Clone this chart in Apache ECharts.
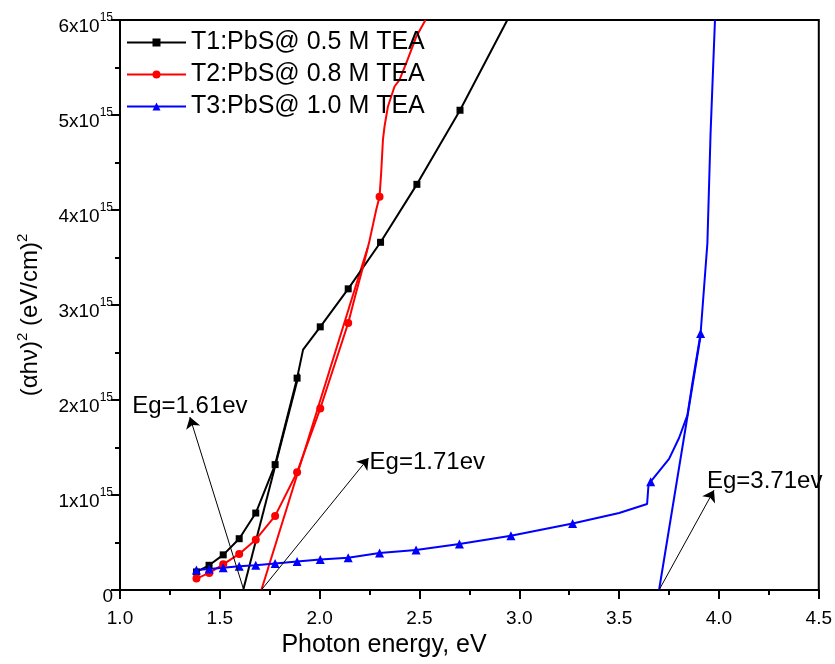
<!DOCTYPE html>
<html>
<head>
<meta charset="utf-8">
<script src="https://cdn.jsdelivr.net/npm/echarts@6/dist/echarts.min.js"></script>
<style>html,body{margin:0;padding:0;background:#fff}#c{width:835px;height:664px}</style>
</head>
<body>
<div id="c"></div>
<script>
// y values in units of 1e15 (eV/cm)^2
const seriesNames = ['T1:PbS@ 0.5 M TEA', 'T2:PbS@ 0.8 M TEA', 'T3:PbS@ 1.0 M TEA'];
const t1x = [1.383,1.446,1.517,1.597,1.68,1.777,1.887,1.917,2.003,2.143,2.305,2.487,2.703,2.94];
const t1y = [0.19,0.26,0.37,0.54,0.81,1.32,2.23,2.53,2.77,3.17,3.66,4.27,5.05,6.0];
const t1Marked = [0,1,2,3,4,5,6,8,9,10,11,12];
const t2x = [1.383,1.447,1.517,1.597,1.68,1.777,1.887,2.003,2.143,2.175,2.217,2.25,2.283,2.30,2.308,2.317,2.325,2.342,2.375,2.40,2.44,2.483,2.53];
const t2y = [0.12,0.18,0.27,0.38,0.53,0.78,1.24,1.91,2.81,3.07,3.40,3.68,4.00,4.14,4.39,4.74,4.88,5.09,5.30,5.37,5.58,5.82,6.0];
const t2Marked = [0,1,2,3,4,5,6,7,8,13];
const t3x = [1.383,1.447,1.517,1.597,1.68,1.777,1.887,2.003,2.143,2.30,2.483,2.70,2.958,3.267,3.5,3.64,3.647,3.658,3.75,3.80,3.842,3.867,3.908,3.942,3.958,3.98];
const t3y = [0.21,0.22,0.235,0.25,0.26,0.28,0.30,0.32,0.34,0.39,0.42,0.484,0.57,0.70,0.81,0.905,1.105,1.14,1.38,1.60,1.84,2.18,2.70,3.65,4.81,6.0];
const t3Marked = [0,1,2,3,4,5,6,7,8,9,10,11,12,13,17,22];
// tangent (extrapolation) lines
const tan1 = [[1.617,0],[1.897,2.28]];
const tan2 = [[1.708,0],[2.24,3.6]];
const tan3 = [[3.70,0],[3.91,2.7]];
// annotations: arrows and labels
const arrowStart = [[1.617,0.02],[1.708,0.0],[3.70,0.0]];
const arrowEnd = [[1.35,1.82],[2.245,1.39],[3.975,1.05]];
const annotText = ['Eg=1.61ev','Eg=1.71ev','Eg=3.71ev'];
const annotPos = [[1.35,1.93],[2.25,1.34],[3.94,1.14]];
const annotAlign = ['center','left','left'];
const xTicks = {min:1.0, max:4.5, step:0.5};
const yTicks = {min:0, max:6, step:1};

const colors = ['#000000','#ff0000','#0000ff'];
const symbols = ['rect','circle','triangle'];
const symSizes = [7,8,9];
function build(xs, ys, marked, sym){
  return xs.map((x,i)=>({value:[x,ys[i]], symbol: marked.indexOf(i)>=0 ? sym : 'none'}));
}
const FONT = 'Liberation Sans, Arial, sans-serif';
const chart = echarts.init(document.getElementById('c'), null, {renderer:'canvas'});
const dataSets = [[t1x,t1y,t1Marked],[t2x,t2y,t2Marked],[t3x,t3y,t3Marked]];
const series = dataSets.map((d,k)=>({
  name: seriesNames[k], type:'line', data: build(d[0],d[1],d[2],symbols[k]),
  symbol: symbols[k], symbolSize: symSizes[k], showAllSymbol:true,
  lineStyle:{color:colors[k], width:2}, itemStyle:{color:colors[k]},
  z: 3, silent:true
}));
[tan1,tan2,tan3].forEach((t,k)=>series.push({
  name:'tan'+k, type:'line', data:t, showSymbol:false, symbol:'none',
  lineStyle:{color:colors[k], width:2}, z:2, silent:true
}));
series.push({
  name:'arrows', type:'line', data:[], silent:true,
  markLine:{
    silent:true, symbol:['none','arrow'], symbolSize:11,
    label:{show:false}, lineStyle:{color:'#000', width:1, type:'solid'},
    itemStyle:{color:'#000'},
    emphasis:{disabled:true},
    data: arrowStart.map((s,i)=>[{coord:s},{coord:arrowEnd[i]}])
  }
});
const option = {
  animation:false,
  textStyle:{fontFamily:FONT, color:'#000'},
  grid:{left:120, right:15, top:20, bottom:74, show:true, borderColor:'#000', borderWidth:2, containLabel:false},
  legend:{
    data: seriesNames, orient:'vertical', left:121, top:25, itemWidth:59, itemHeight:10, itemGap:7,
    textStyle:{fontSize:25, fontFamily:FONT, color:'#000'}, selectedMode:false
  },
  xAxis:{
    type:'value', min:xTicks.min, max:xTicks.max, interval:xTicks.step,
    axisLine:{lineStyle:{color:'#000', width:2}},
    axisTick:{length:9, lineStyle:{width:2, color:'#000'}},
    minorTick:{show:true, splitNumber:2, length:5, lineStyle:{width:2, color:'#000'}},
    splitLine:{show:false},
    axisLabel:{fontSize:19, color:'#000', margin:19, formatter:v=>v.toFixed(1)}
  },
  yAxis:{
    type:'value', min:yTicks.min, max:yTicks.max, interval:yTicks.step,
    axisLine:{lineStyle:{color:'#000', width:2}},
    axisTick:{length:9, lineStyle:{width:2, color:'#000'}},
    minorTick:{show:true, splitNumber:2, length:5, lineStyle:{width:2, color:'#000'}},
    splitLine:{show:false},
    axisLabel:{color:'#000', margin:7, padding:[8,0,0,0], formatter:v=> v===0 ? '{a|0}' : '{a|'+v+'x10}{b|15}',
      rich:{a:{fontSize:19, lineHeight:24, verticalAlign:'bottom', fontFamily:FONT}, b:{fontSize:12, lineHeight:24, verticalAlign:'top', fontFamily:FONT}}}
  },
  series: series
};
chart.setOption(option);

const graphics = annotText.map((t,i)=>{
  const p = chart.convertToPixel({gridIndex:0}, annotPos[i]);
  return {type:'text', x:p[0], y:p[1], silent:true,
    style:{text:t, font:'24px '+FONT, fill:'#000', align:annotAlign[i], verticalAlign:'middle'}};
});
graphics.push({type:'text', x:384, y:645, silent:true,
  style:{text:'Photon energy, eV', font:'25px '+FONT, fill:'#000', align:'center', verticalAlign:'middle'}});
graphics.push({type:'text', x:30, y:315, rotation:Math.PI/2, silent:true,
  style:{text:'(αhν){s|2} (eV/cm){s|2}', font:'24px '+FONT, fill:'#000', align:'center', verticalAlign:'middle',
    rich:{s:{fontSize:15, verticalAlign:'top', lineHeight:30, fontFamily:FONT}}}});
chart.setOption({graphic: graphics});
</script>
</body>
</html>
